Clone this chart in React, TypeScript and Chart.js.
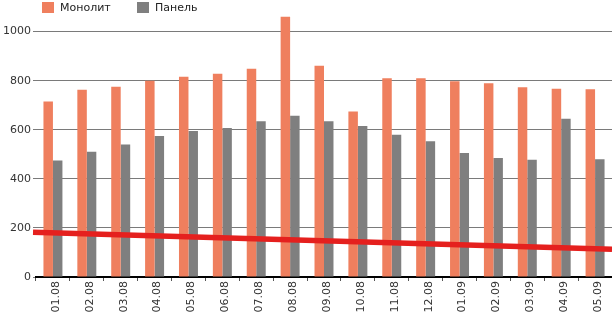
import React, { useEffect, useRef } from "react";
import { Chart, registerables } from "chart.js";

Chart.register(...registerables);

const categories = ["01.08","02.08","03.08","04.08","05.08","06.08","07.08","08.08","09.08","10.08","11.08","12.08","01.09","02.09","03.09","04.09","05.09"];
const monolit = [715, 763, 775, 800, 816, 828, 849, 1061, 861, 675, 810, 810, 798, 790, 773, 767, 765];
const panel = [475, 510, 540, 575, 595, 607, 635, 657, 635, 615, 580, 553, 505, 485, 478, 645, 480];
const trendStart = 182;
const trendEnd = 113;
const yTicks = [0, 200, 400, 600, 800, 1000];

const ORANGE = "#EF7F5E";
const GRAY = "#7F7F7F";
const RED = "#E5201E";
const FONT = "'DejaVu Sans', Verdana, sans-serif";

const trendPlugin = {
  id: "trend",
  afterDatasetsDraw(chart: any) {
    const { ctx, chartArea, scales } = chart;
    const y = scales.y;
    ctx.save();
    ctx.strokeStyle = RED;
    ctx.lineWidth = 5.5;
    ctx.beginPath();
    ctx.moveTo(chartArea.left - 3, y.getPixelForValue(trendStart));
    ctx.lineTo(chartArea.right, y.getPixelForValue(trendEnd));
    ctx.stroke();
    ctx.restore();
  },
};

export default function App() {
  const ref = useRef<HTMLCanvasElement>(null);
  useEffect(() => {
    document.body.style.margin = "0";
    const ctx = ref.current!;
    const chart = new Chart(ctx, {
      type: "bar",
      data: {
        labels: categories,
        datasets: [
          { label: "Монолит", data: monolit, backgroundColor: ORANGE, categoryPercentage: 0.56, barPercentage: 1 },
          { label: "Панель", data: panel, backgroundColor: GRAY, categoryPercentage: 0.56, barPercentage: 1 },
        ],
      },
      plugins: [trendPlugin],
      options: {
        animation: false,
        responsive: false,
        maintainAspectRatio: false,
        layout: { padding: { top: 12, right: 0, left: 0, bottom: 0 } },
        plugins: { legend: { display: false }, tooltip: { enabled: false } },
        scales: {
          x: {
            type: "category",
            offset: true,
            grid: { offset: true, drawOnChartArea: false, drawTicks: true, tickLength: 4, color: "#555" },
            border: { display: true, color: "#000", width: 2 },
            ticks: { minRotation: 90, maxRotation: 90, color: "#333", font: { family: FONT, size: 11 }, padding: 0, autoSkip: false, labelOffset: 3 },
            afterFit: (s: any) => { s.height = 35; },
          },
          y: {
            min: 0, max: 1080,
            afterBuildTicks: (s: any) => { s.ticks = yTicks.map((v) => ({ value: v })); },
            grid: { color: "#7a7a7a", lineWidth: 1, drawTicks: true, tickLength: 3 },
            border: { display: false },
            ticks: { color: "#333", font: { family: FONT, size: 11 }, padding: 2, callback: (v: any) => String(v) },
            afterFit: (s: any) => { s.width = 36; },
          },
        },
      } as any,
    });
    return () => chart.destroy();
  }, []);

  const legendItem = (color: string, text: string, left: number) => (
    <div style={{ position: "absolute", left, top: 1, display: "flex", alignItems: "center", height: 13 }}>
      <span style={{ display: "inline-block", width: 12, height: 11, background: color, marginRight: 6 }} />
      <span style={{ fontFamily: FONT, fontSize: 11, color: "#222" }}>{text}</span>
    </div>
  );

  return (
    <div style={{ position: "fixed", left: 0, top: 0, width: 612, height: 312, background: "#fff" }}>
      <canvas ref={ref} width={612} height={312} style={{ position: "absolute", left: 0, top: 0 }} />
      {legendItem(ORANGE, "Монолит", 42)}
      {legendItem(GRAY, "Панель", 137)}
    </div>
  );
}
